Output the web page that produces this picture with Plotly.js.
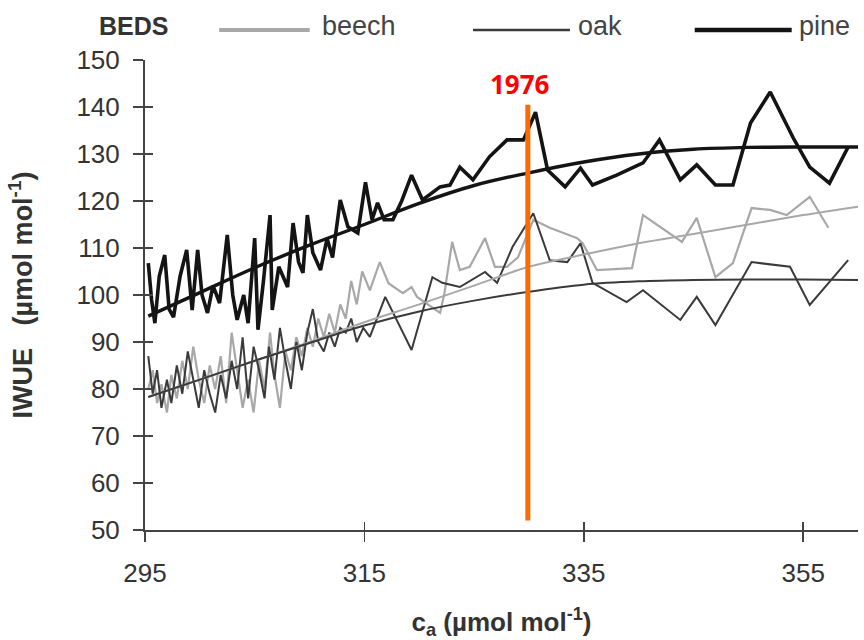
<!DOCTYPE html>
<html>
<head>
<meta charset="utf-8">
<script src="https://cdn.plot.ly/plotly-3.0.1.min.js"></script>
<style>html,body{margin:0;padding:0;background:#fff;}#chart{width:864px;height:640px;}</style>
</head>
<body>
<div id="chart"></div>
<script>
// ---- data ----
const pineCa = [295.3,295.6,295.9,296.3,296.8,297.2,297.6,298.2,298.8,299.3,299.8,300.2,300.7,301.2,301.8,302.5,303.0,303.4,304.0,304.4,305.0,305.3,305.8,306.4,306.6,307.2,308.0,308.5,309.0,309.4,309.8,310.3,311.0,311.6,312.1,312.8,313.5,314.4,315.1,315.7,316.2,316.8,317.6,318.4,319.3,320.3,321.9,322.8,323.7,324.9,326.4,328.0,329.5,330.6,331.7,333.3,334.7,335.8,338.0,340.4,341.9,343.8,345.3,347.0,348.6,350.2,352.0,354.1,355.6,357.4,359.1];
const pineIWUE = [106.8,99,94.0,104,108.5,97,95.3,104,109.6,96.8,109.6,100,96.2,102,98.3,112.8,100,94.7,100,94.0,112.1,92.6,103,117.0,96.8,106,101.7,115.3,107,104.7,117,109,105.3,112,108,120.2,114.5,113.2,124.0,116.0,119.6,116,116,120,125.5,120.2,123.0,123.4,127.2,124.5,129.4,133.0,133.0,138.9,126.6,123.0,127.0,123.4,125.5,128.1,133.0,124.5,127.7,123.4,123.4,136.6,143.2,133.4,127.2,123.8,131.5];

const oakCa = [295.3,295.7,296.1,296.5,297.0,297.4,297.9,298.4,298.9,299.4,299.9,300.4,300.9,301.4,301.9,302.4,302.9,303.4,303.9,304.4,304.9,305.4,305.9,306.3,306.8,307.3,307.8,308.3,308.8,309.3,309.8,310.3,310.8,311.3,311.8,312.3,312.8,313.3,313.8,314.3,314.9,315.5,316.9,319.3,321.2,322.1,323.7,326.0,327.1,328.5,330.4,331.9,333.5,334.7,335.8,338.9,340.4,343.8,345.3,347.0,350.3,353.8,355.6,359.1];
const oakIWUE = [87,79,84,76,82,77,85,79,88,82,76,84,79,75,83,78,86,80,91,78,89,84,78,89,82,93,86,80,90,84,92,97,90,88,92,89,93,92,95,90,93,91.1,99.6,88.3,103.8,102.6,101.7,104.9,102.6,110.2,117.4,107.4,107,111,102.6,98.5,101,94.7,99.6,93.6,107,106,97.9,107.4];

const beechCa = [295.3,295.7,296.1,296.5,297.0,297.4,297.9,298.4,298.9,299.4,299.9,300.4,300.9,301.4,301.9,302.4,302.9,303.4,303.9,304.4,304.9,305.4,305.9,306.4,306.8,307.3,307.8,308.3,308.8,309.3,309.8,310.3,310.8,311.3,311.8,312.3,312.8,313.3,313.8,314.3,314.8,315.5,316.4,317.2,318.5,319.3,319.8,321.9,322.3,323.0,323.7,324.6,326.0,326.9,328.0,329.0,330.4,331.9,334.4,334.9,336.2,339.4,340.4,343.95,345.3,347.0,348.6,350.3,352.0,353.5,355.6,357.3];
const beechIWUE = [80,84,77,81,75,83,78,86,80,89,82,77,85,80,87,77,92,84,76,82,75,86,80,92,83,76,88,84,91,87,93,89,95,91,96,92,98,95,103,98,105,101,107,102.5,100.4,101.7,99.6,96.2,100.4,111.3,105.3,106,112.1,106,106,108,116,114.3,112.1,111,105.3,105.7,117,111.3,116.4,103.8,106.8,118.5,118.1,117,120.9,114.3];

// fitted trend curves
const fitCa = [295.3,300,305,310,315,320,325,330,335,340,345,350,355,360];
const pineFit = [95.5,100.5,105.8,110.6,115.0,119.5,123.3,126.0,128.3,130.0,131.0,131.4,131.5,131.5];
const oakFit = [78.3,82.0,86.0,89.8,93.5,96.5,98.8,100.7,102.2,102.9,103.2,103.3,103.3,103.2];
const beechFit = [78.3,82.0,86.0,90.0,94.2,98.0,102.0,106.0,108.6,111.0,113.0,115.0,117.0,118.8];

const markCa = 329.9;       // ca of the year 1976 marker
const markLabel = '1976';
const xTicks = [295,315,335,355];
const seriesNames = ['beech','oak','pine'];

// ---- styling ----
const cBeech = '#a8a8a8', cOak = '#3a3a3a', cPine = '#141414';
const fam = 'Liberation Sans Narrow, Liberation Sans, Arial, sans-serif';
const axFont = {family:fam, size:26, color:'#333'};

const traces = [
  {x:beechCa, y:beechIWUE, mode:'lines', line:{color:cBeech, width:2.2}, name:'beech', showlegend:false},
  {x:oakCa, y:oakIWUE, mode:'lines', line:{color:cOak, width:2}, name:'oak', showlegend:false},
  {x:pineCa, y:pineIWUE, mode:'lines', line:{color:cPine, width:3.6}, name:'pine', showlegend:false},
  {x:fitCa, y:beechFit, mode:'lines', line:{color:cBeech, width:2, shape:'spline'}, showlegend:false, hoverinfo:'skip'},
  {x:fitCa, y:oakFit, mode:'lines', line:{color:cOak, width:2, shape:'spline'}, showlegend:false, hoverinfo:'skip'},
  {x:fitCa, y:pineFit, mode:'lines', line:{color:cPine, width:3.4, shape:'spline'}, showlegend:false, hoverinfo:'skip'},
  {x:[], y:[], xaxis:'x2', yaxis:'y2', showlegend:false, hoverinfo:'skip'}
];

const legendSpec = [
  {name:seriesNames[0], color:cBeech, width:4, x0:0.104, x1:0.231, tx:0.246},
  {name:seriesNames[1], color:cOak, width:2.5, x0:0.460, x1:0.596, tx:0.604},
  {name:seriesNames[2], color:cPine, width:4.5, x0:0.771, x1:0.907, tx:0.914}
];

const shapes = [
  {type:'line', xref:'x', yref:'y', x0:markCa, x1:markCa, y0:52, y1:140.5, line:{color:'#ff6a00', width:5}}
];
const annotations = [
  {text:markLabel, xref:'x', yref:'y', x:markCa, y:144.8, xshift:-8, showarrow:false,
   font:{family:'Open Sans, Noto Sans, sans-serif', size:26, color:'#ff0000', weight:700}, xanchor:'center', yanchor:'middle'},
  {text:'<b>BEDS</b>', xref:'paper', yref:'paper', x:-0.016, y:1.072, showarrow:false, xanchor:'center', yanchor:'middle',
   font:{family:fam, size:25, color:'#333'}}
];
legendSpec.forEach(s => {
  shapes.push({type:'line', xref:'paper', yref:'paper', x0:s.x0, x1:s.x1, y0:1.064, y1:1.064, line:{color:s.color, width:s.width}});
  annotations.push({text:s.name, xref:'paper', yref:'paper', x:s.tx, y:1.072, showarrow:false, xanchor:'left', yanchor:'middle',
    font:{family:fam, size:27, color:'#444'}});
});

const layout = {
  width:864, height:640,
  margin:{l:145, r:6, t:60, b:110},
  paper_bgcolor:'#fff', plot_bgcolor:'#fff',
  showlegend:false,
  font:axFont,
  xaxis:{range:[295,360], tickvals:xTicks, ticks:'outside', ticklen:10, tickwidth:1.5, tickcolor:'#444',
         showline:true, linecolor:'#444', linewidth:2, showgrid:false, zeroline:false, tickfont:axFont,
         ticklabelstandoff:9,
         title:{text:'<b>c<sub>a</sub> (µmol mol<sup>-1</sup>)</b>', font:{family:fam, size:26, color:'#333'}, standoff:30}},
  yaxis:{range:[50,150], dtick:10, ticks:'outside', ticklen:10, tickwidth:1.5, tickcolor:'#444',
         showline:true, linecolor:'#444', linewidth:2, showgrid:false, zeroline:false, tickfont:axFont,
         ticklabelstandoff:8,
         title:{text:'<b>IWUE   (µmol mol<sup>-1</sup>)</b>', font:{family:fam, size:27, color:'#333'}, standoff:36}},
  xaxis2:{range:[295,360], tickvals:xTicks, overlaying:'x', anchor:'y2', ticks:'inside', ticklen:8, tickwidth:1.5, tickcolor:'#444',
          showticklabels:false, showline:false, showgrid:false, zeroline:false},
  yaxis2:{range:[50,150], dtick:10, overlaying:'y', anchor:'x2', ticks:'inside', ticklen:8, tickwidth:1.5, tickcolor:'#444',
          showticklabels:false, showline:false, showgrid:false, zeroline:false},
  shapes:shapes,
  annotations:annotations
};

Plotly.newPlot('chart', traces, layout, {displayModeBar:false, staticPlot:true});
</script>
</body>
</html>
